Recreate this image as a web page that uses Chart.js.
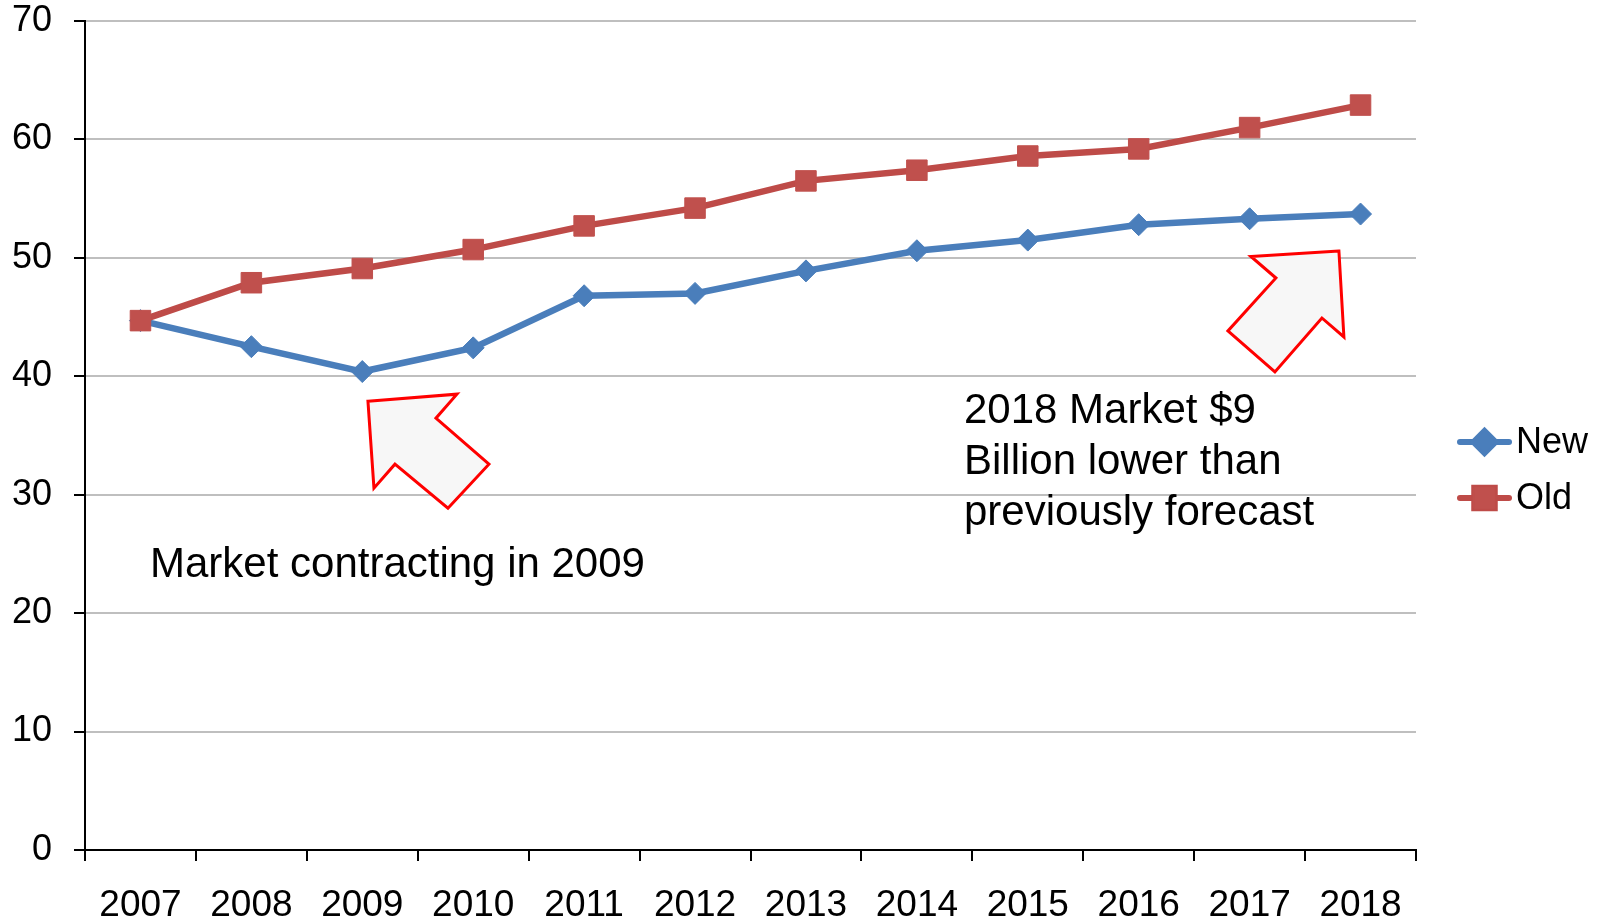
<!DOCTYPE html>
<html lang="en">
<head>
<meta charset="UTF-8">
<title>Market forecast 2007-2018</title>
<script src="https://cdn.jsdelivr.net/npm/chart.js"></script>
<style>
  html, body { margin: 0; padding: 0; background: #fff; }
  #wrap { width: 1599px; height: 924px; }
</style>
</head>
<body>
<div id="wrap"><canvas id="chart"></canvas></div>
<script>
// categories and series
const years = ['2007', '2008', '2009', '2010', '2011', '2012', '2013', '2014', '2015', '2016', '2017', '2018'];
const newValues = [44.7, 42.5, 40.4, 42.4, 46.8, 47.0, 48.9, 50.6, 51.5, 52.8, 53.3, 53.7];
const oldValues = [44.7, 47.9, 49.1, 50.7, 52.7, 54.2, 56.5, 57.4, 58.6, 59.2, 61.0, 62.9];
const yTicks = [0, 10, 20, 30, 40, 50, 60, 70];

const FONT = "'Liberation Sans', Arial, sans-serif";
const BLUE = '#4a7ebb';
const RED = '#be4b48';

// callout text, anchored at (category index, value)
const noteLeft = { x: 0.086, y: 24.0, lines: ['Market contracting in 2009'] };
const noteRight = { x: 7.425, y: 37.0, lines: ['2018 Market $9', 'Billion lower than', 'previously forecast'] };

// block arrows: tip anchored in data space, outline as pixel offsets from the tip
const arrows = [
  { x: 2.051, y: 37.9, pts: [[0, 0], [89, -7], [68, 17], [121, 63], [80, 107], [27, 63], [6, 87]] },
  { x: 10.805, y: 50.58, pts: [[0, 0], [-88, 5.5], [-63, 27], [-111, 80], [-64, 121], [-17, 67], [5, 86]] }
];

const callouts = {
  id: 'callouts',
  afterDatasetsDraw(chart) {
    const { ctx, scales: { x, y } } = chart;
    ctx.save();
    arrows.forEach(a => {
      const tx = x.getPixelForValue(a.x);
      const ty = y.getPixelForValue(a.y);
      ctx.beginPath();
      a.pts.forEach(([dx, dy], i) => {
        if (i === 0) ctx.moveTo(tx + dx, ty + dy);
        else ctx.lineTo(tx + dx, ty + dy);
      });
      ctx.closePath();
      ctx.fillStyle = '#f7f7f7';
      ctx.fill();
      ctx.lineWidth = 3;
      ctx.strokeStyle = '#ff0000';
      ctx.lineJoin = 'miter';
      ctx.stroke();
    });
    ctx.fillStyle = '#000';
    ctx.font = '42px ' + FONT;
    ctx.textAlign = 'left';
    ctx.textBaseline = 'middle';
    [noteLeft, noteRight].forEach(n => {
      const px = x.getPixelForValue(n.x);
      const py = y.getPixelForValue(n.y);
      n.lines.forEach((t, i) => ctx.fillText(t, px, py + i * 51));
    });
    ctx.restore();
  }
};

// legend on the right: line with marker, then the series name
const sideLegend = {
  id: 'sideLegend',
  afterDraw(chart) {
    const { ctx, chartArea } = chart;
    const x0 = chartArea.right + 41;
    const rows = [442, 498];
    ctx.save();
    chart.data.datasets.forEach((ds, i) => {
      const cy = rows[i];
      ctx.strokeStyle = ds.borderColor;
      ctx.lineWidth = 6;
      ctx.lineCap = 'round';
      ctx.beginPath();
      ctx.moveTo(x0 + 3, cy);
      ctx.lineTo(x0 + 52, cy);
      ctx.stroke();
      Chart.helpers.drawPoint(ctx, {
        pointStyle: ds.pointStyle,
        radius: ds.pointRadius,
        borderWidth: 1,
        rotation: 0
      }, x0 + 27.5, cy);
      ctx.fillStyle = ds.pointBackgroundColor;
      ctx.strokeStyle = ds.pointBorderColor;
      ctx.lineWidth = 1;
      ctx.fill();
      ctx.stroke();
      ctx.fillStyle = '#000';
      ctx.font = '36px ' + FONT;
      ctx.textAlign = 'left';
      ctx.textBaseline = 'middle';
      ctx.fillText(ds.label, x0 + 59, cy + 1);
    });
    ctx.restore();
  }
};

new Chart(document.getElementById('chart'), {
  type: 'line',
  data: {
    labels: years,
    datasets: [
      {
        label: 'New',
        data: newValues,
        borderColor: BLUE,
        backgroundColor: BLUE,
        borderWidth: 6.5,
        pointStyle: 'rectRot',
        pointRadius: 11,
        pointBackgroundColor: BLUE,
        pointBorderColor: BLUE,
        pointBorderWidth: 1,
        tension: 0,
        order: 1
      },
      {
        label: 'Old',
        data: oldValues,
        borderColor: RED,
        backgroundColor: '#c0504d',
        borderWidth: 6.5,
        pointStyle: 'rect',
        pointRadius: 14.5,
        pointBackgroundColor: '#c0504d',
        pointBorderColor: '#c0504d',
        pointBorderWidth: 1,
        tension: 0,
        order: 0
      }
    ]
  },
  options: {
    responsive: true,
    maintainAspectRatio: false,
    animation: false,
    devicePixelRatio: 1,
    layout: { autoPadding: false, padding: { left: 12, right: 183, top: 0, bottom: 0 } },
    plugins: {
      legend: { display: false },
      tooltip: { enabled: false }
    },
    scales: {
      x: {
        offset: true,
        grid: { drawOnChartArea: false, offset: true, tickLength: 11, tickColor: '#000', lineWidth: 2 },
        border: { color: '#000', width: 2 },
        ticks: { color: '#000', font: { family: FONT, size: 37 }, padding: 23, maxRotation: 0, autoSkip: false },
        afterFit: scale => {
          scale.height = 74;
          scale.paddingLeft = 0;
          scale.paddingRight = 0;
        }
      },
      y: {
        min: yTicks[0],
        max: yTicks[yTicks.length - 1],
        afterBuildTicks: scale => { scale.ticks = yTicks.map(v => ({ value: v })); },
        grid: { color: '#bfbfbf', lineWidth: 2, tickLength: 11, tickColor: '#000' },
        border: { color: '#000', width: 2 },
        ticks: { color: '#000', font: { family: FONT, size: 36 }, padding: 22 },
        afterFit: scale => {
          scale.width = 73;
          scale.paddingTop = 21;
          scale.paddingBottom = 21;
        }
      }
    }
  },
  plugins: [callouts, sideLegend]
});
</script>
</body>
</html>
